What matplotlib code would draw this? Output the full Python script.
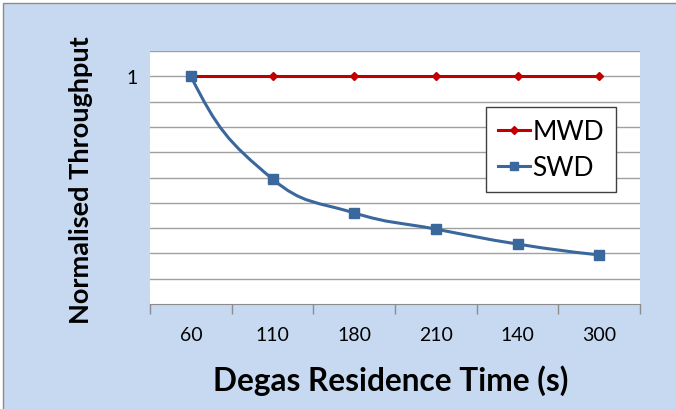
import numpy as np
import matplotlib.pyplot as plt
from matplotlib.path import Path
from matplotlib.patches import PathPatch, Rectangle
from matplotlib.lines import Line2D

plt.rcParams['font.family'] = ['Lato', 'DejaVu Sans']

# datos
categorias = ['60', '110', '180', '210', '140', '300']
mwd = [1.0, 1.0, 1.0, 1.0, 1.0, 1.0]
swd = [1.0, 0.594, 0.46, 0.396, 0.337, 0.294]

rojo = '#C00000'
azul = '#3A679C'
fondo = '#C6D9F0'

W, H = 676, 410
fig = plt.figure(figsize=(W/100, H/100), dpi=100, facecolor='white')

# marco azul del grafico (cortado a la derecha y abajo)
fig.patches.append(Rectangle((3/W, -0.05), 1.1, 1 - 4/H + 0.05, transform=fig.transFigure,
                             facecolor=fondo, edgecolor='#8C8C8C', linewidth=1, zorder=-10))

ax = fig.add_axes([150/W, 1 - 305/H, 490/W, 253/H])
ax.set_facecolor('white')

x = np.arange(len(categorias))
ax.set_xlim(-0.5, len(categorias) - 0.5)
ax.set_ylim(0.1, 1.1)

# grilla horizontal
yt = np.arange(0.2, 1.11, 0.1)
ax.set_yticks(yt)
ax.set_yticklabels(['1' if abs(v - 1) < 1e-9 else '' for v in yt])
ax.grid(axis='y', color='#A0A0A0', linewidth=1)
ax.tick_params(axis='y', length=0, pad=9, labelsize=14)
ax.set_axisbelow(True)

# ticks en x entre categorias, etiquetas en el centro
ax.set_xticks(np.arange(-0.5, len(categorias), 1.0))
ax.set_xticklabels([])
ax.set_xticks(x, minor=True)
ax.set_xticklabels(categorias, minor=True)
ax.tick_params(axis='x', which='major', length=7, direction='out', color='#8C8C8C', width=1)
ax.tick_params(axis='x', which='minor', length=0, pad=16, labelsize=14)

for s in ['top', 'right', 'left']:
    ax.spines[s].set_visible(False)
ax.spines['bottom'].set_color('#8C8C8C')

# MWD
ax.plot(x, mwd, color=rojo, lw=2.2, marker='D', ms=4.5, zorder=3)

# SWD: linea suavizada tipo Excel, calculada en espacio de pixeles
sx = 490 / len(categorias)
sy = 253 / 1.0
P = np.column_stack([x * sx, np.array(swd) * sy])
n = len(P)
L = np.linalg.norm(np.diff(P, axis=0), axis=1)
D = np.zeros_like(P)
for i in range(1, n - 1):
    d = P[i + 1] - P[i - 1]
    D[i] = d / np.linalg.norm(d)
for i, j in [(0, 1), (n - 1, n - 2)]:
    c = (P[j] - P[i]) / np.linalg.norm(P[j] - P[i])
    t = D[j] if i == 0 else -D[j]
    r = 2 * c * np.dot(c, t) - t
    D[i] = r if i == 0 else -r
tension = 0.45
verts = [P[0]]
codes = [Path.MOVETO]
for i in range(n - 1):
    verts += [P[i] + D[i] * L[i] * tension, P[i + 1] - D[i + 1] * L[i] * tension, P[i + 1]]
    codes += [Path.CURVE4] * 3
verts = np.array(verts) / [sx, sy]
ax.add_patch(PathPatch(Path(verts, codes), fill=False, edgecolor=azul, lw=2.2, zorder=3,
                       capstyle='round'))
ax.plot(x, swd, linestyle='none', marker='s', ms=7, color=azul, zorder=4)

# leyenda
h_mwd = Line2D([], [], color=rojo, lw=2.2, marker='D', ms=4.5)
h_swd = Line2D([], [], color=azul, lw=2.2, marker='s', ms=6)
leg = ax.legend([h_mwd, h_swd], ['MWD', 'SWD'], loc='center',
                bbox_to_anchor=(551/W, 1 - 150.5/H), bbox_transform=fig.transFigure,
                fontsize=19, handlelength=1.2, handletextpad=0.1, labelspacing=0.4,
                borderpad=0.45, fancybox=False, framealpha=1, edgecolor='#404040')
leg.get_frame().set_linewidth(1)

fig.text(81/W, 1 - 180/H, 'Normalised Throughput', rotation=90, ha='center', va='center',
         fontsize=19.5, fontweight='bold')
fig.text(391/W, 1 - 381/H, 'Degas Residence Time (s)', ha='center', va='center',
         fontsize=22.8, fontweight='bold')

fig.savefig('out.png', dpi=100, facecolor=fig.get_facecolor())
